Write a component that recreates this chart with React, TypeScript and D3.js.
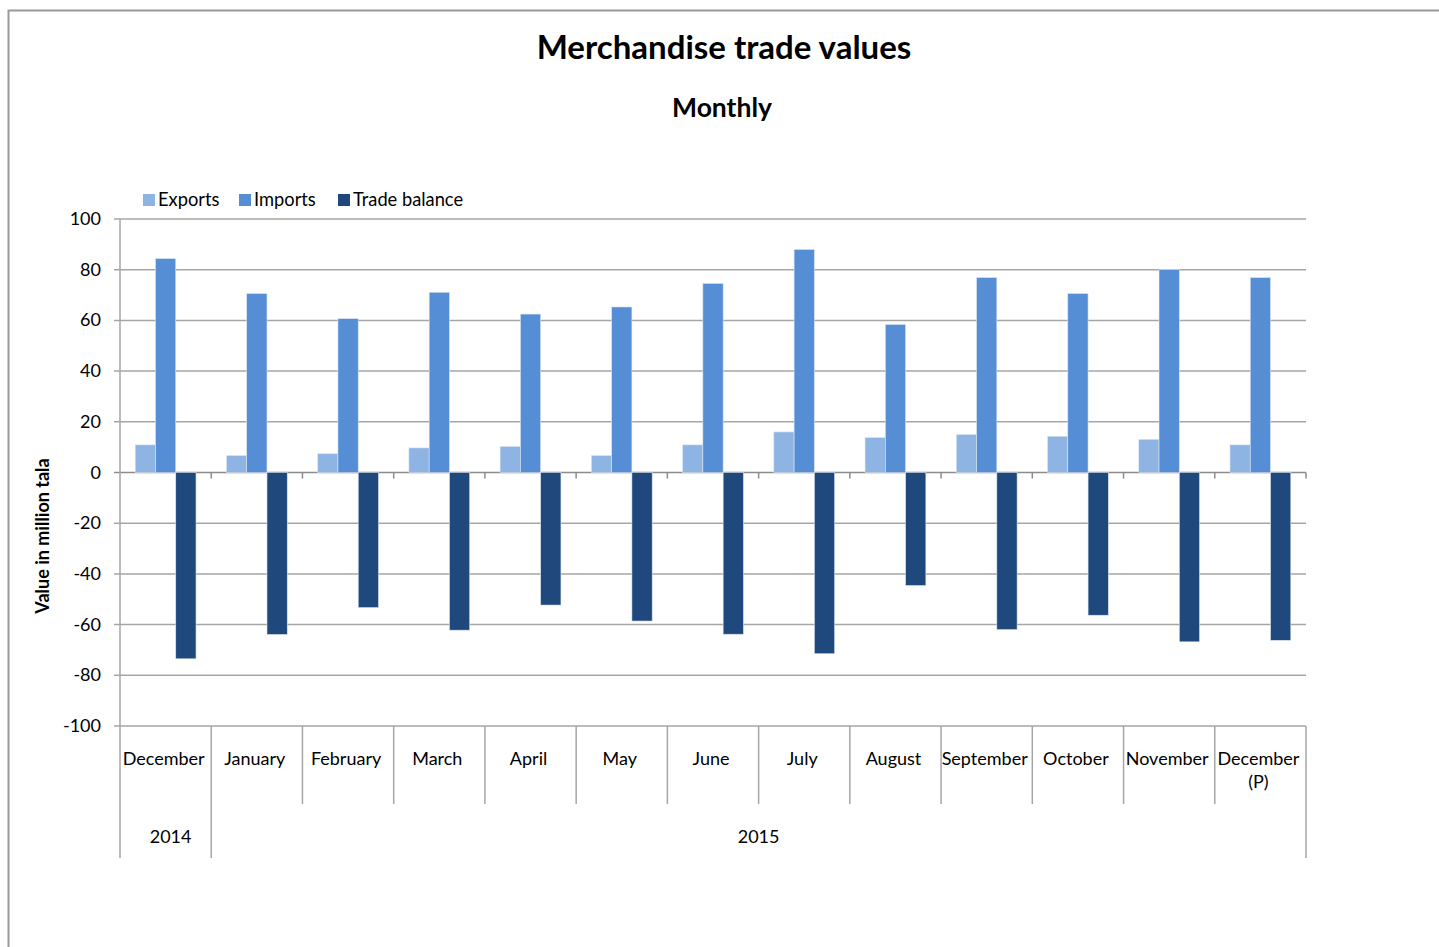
import * as d3 from "d3"

const months = ["December", "January", "February", "March", "April", "May", "June", "July", "August", "September", "October", "November", "December\n(P)"]
const years = [
  { label: "2014", from: 0, to: 1 },
  { label: "2015", from: 1, to: 13 },
]
const exportsVals = [10.9, 6.7, 7.4, 9.7, 10.3, 6.7, 10.9, 16.0, 13.8, 15.0, 14.3, 13.1, 10.9]
const importsVals = [84.4, 70.6, 60.7, 71.1, 62.5, 65.3, 74.6, 88.0, 58.4, 76.9, 70.6, 80.0, 76.9]
const balanceVals = [-73.5, -63.9, -53.3, -62.2, -52.3, -58.6, -63.8, -71.5, -44.6, -62.0, -56.3, -66.8, -66.2]
const seriesNames = ["Exports", "Imports", "Trade balance"]
const seriesColors = ["#8EB4E3", "#558ED5", "#1F497D"]
const yTicks = [-100, -80, -60, -40, -20, 0, 20, 40, 60, 80, 100]

const W = 1439
const H = 947
const font = "Lato, 'Open Sans', sans-serif"

export default function App() {
  const left = 120
  const right = 1306
  const top = 219
  const bottom = 726

  const x = d3.scaleBand<number>().domain(d3.range(months.length)).range([left, right]).paddingInner(0).paddingOuter(0)
  const inner = d3.scaleBand<number>().domain([0, 1, 2]).range([0, x.bandwidth()]).paddingInner(0).paddingOuter(0.75)
  const y = d3.scaleLinear().domain([-100, 100]).range([bottom, top])

  const series = [exportsVals, importsVals, balanceVals]
  const bw = x.bandwidth()

  return (
    <svg width={W} height={H} style={{ position: "absolute", left: 0, top: 0, background: "#fff" }} fontFamily={font}>
      {/* outer frame */}
      <path d={`M8.5,${H} V10.5 H${W}`} fill="none" stroke="#9a9a9a" strokeWidth={2} />

      <text x={724} y={59} textAnchor="middle" fontSize={33} fontWeight="bold" fill="#000">Merchandise trade values</text>
      <text x={722} y={117} textAnchor="middle" fontSize={26.5} fontWeight="bold" fill="#000">Monthly</text>

      {/* legend */}
      {seriesNames.map((n, i) => {
        const lx = [143, 239, 338][i]
        return (
          <g key={n}>
            <rect x={lx} y={194} width={12} height={12} fill={seriesColors[i]} />
            <text x={lx + 15} y={206} fontSize={18.3} fill="#000">{n}</text>
          </g>
        )
      })}

      {/* grid */}
      {yTicks.map((t) => (
        <g key={t}>
          <line x1={left - 6} x2={right} y1={y(t)} y2={y(t)} stroke={t === 0 ? "#8c8c8c" : "#a6a6a6"} strokeWidth={1.5} />
          <text x={101} y={y(t) + 6} textAnchor="end" fontSize={18} fill="#000">{t}</text>
        </g>
      ))}
      <line x1={left} x2={left} y1={top} y2={bottom} stroke="#a6a6a6" strokeWidth={1.5} />

      {/* bars */}
      {series.map((vals, si) =>
        vals.map((v, i) => (
          <rect
            key={`${si}-${i}`}
            x={(x(i) as number) + (inner(si) as number)}
            y={y(Math.max(0, v))}
            width={inner.bandwidth()}
            height={Math.abs(y(v) - y(0))}
            fill={seriesColors[si]}
            stroke="#dce6f2"
            strokeWidth={0.6}
          />
        ))
      )}

      {/* zero-line ticks */}
      {d3.range(1, months.length + 1).map((i) => (
        <line key={i} x1={left + i * bw} x2={left + i * bw} y1={y(0)} y2={y(0) + 6} stroke="#8c8c8c" strokeWidth={1.5} />
      ))}

      {/* category axis: month row */}
      {d3.range(0, months.length + 1).map((i) => {
        const isYearEdge = years.some((yr) => yr.from === i || yr.to === i)
        return (
          <line key={i} x1={left + i * bw} x2={left + i * bw} y1={bottom} y2={isYearEdge ? 858 : 804} stroke="#a6a6a6" strokeWidth={1.5} />
        )
      })}
      {months.map((m, i) => (
        <text key={i} x={(x(i) as number) + bw / 2 - 2} y={765} textAnchor="middle" fontSize={18} fill="#000">
          {m.split("\n").map((part, k) => (
            <tspan key={k} x={(x(i) as number) + bw / 2 - 2} dy={k === 0 ? 0 : 23}>{part}</tspan>
          ))}
        </text>
      ))}
      {years.map((yr) => (
        <text key={yr.label} x={left + ((yr.from + yr.to) / 2) * bw + (yr.to - yr.from === 1 ? 5 : 0)} y={843} textAnchor="middle" fontSize={18} fill="#000">{yr.label}</text>
      ))}

      <text transform={`translate(49,536) rotate(-90)`} textAnchor="middle" fontSize={18} fontWeight="bold" fill="#000">Value in million tala</text>
    </svg>
  )
}
